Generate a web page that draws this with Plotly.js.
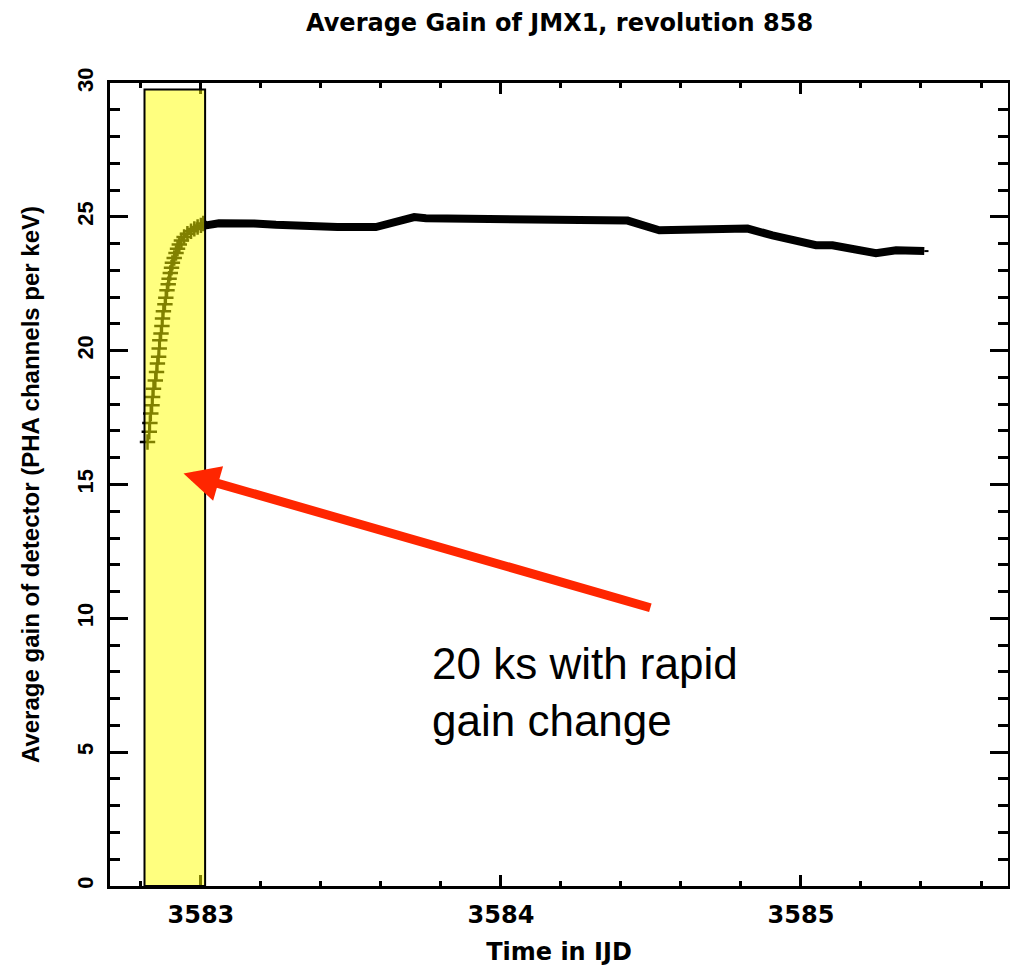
<!DOCTYPE html>
<html>
<head>
<meta charset="utf-8">
<script src="https://cdn.plot.ly/plotly-3.0.1.min.js"></script>
<style>html,body{margin:0;padding:0;background:#fff;}#chart{width:1010px;height:966px;}</style>
</head>
<body>
<div id="chart"></div>
<script>
// Rapid gain-change phase (time in IJD, gain in PHA channels per keV)
const riseTime = [3582.822,3582.828,3582.830,3582.833,3582.837,3582.839,3582.842,3582.848,3582.852,3582.855,
  3582.859,3582.861,3582.863,3582.867,3582.870,3582.872,3582.875,3582.880,3582.883,3582.887,
  3582.891,3582.894,3582.898,3582.902,3582.905,3582.911,3582.917,3582.922,3582.928,3582.935,
  3582.944,3582.955,3582.967,3582.978,3582.989,3583.000,3583.008];
const riseGain = [16.59,16.97,17.30,17.65,17.96,18.27,18.58,18.89,19.20,19.52,
  19.77,20.08,20.39,20.64,20.92,21.20,21.47,21.73,21.98,22.26,
  22.48,22.69,22.90,23.10,23.28,23.46,23.65,23.81,23.97,24.12,
  24.25,24.37,24.46,24.55,24.62,24.68,24.75];
// Stable phase
const timeIJD = [3583.008,3583.017,3583.060,3583.105,3583.178,3583.250,3583.328,3583.440,3583.455,3583.583,
  3583.650,3583.711,3583.750,3583.911,3583.925,3584.422,3584.528,3584.694,3584.705,3584.822,
  3584.905,3585.050,3585.105,3585.228,3585.250,3585.317,3585.389,3585.411,3585.425];
const gain = [24.75,24.68,24.76,24.78,24.75,24.70,24.66,24.66,24.62,24.62,
  24.80,24.99,24.95,24.93,24.86,24.86,24.50,24.50,24.56,24.56,
  24.31,23.94,23.94,23.63,23.64,23.75,23.72,23.72,23.72];
const xTickVals = [3583, 3584, 3585];
const yTickVals = [0, 5, 10, 15, 20, 25, 30];

const tickFont = {family: 'DejaVu Sans', size: 24, color: '#000', weight: 'bold'};
const yTickFont = {family: 'Liberation Sans', size: 22, color: '#000', weight: 'bold'};

const traces = [
  {x: riseTime, y: riseGain, mode: 'lines+markers', type: 'scatter',
   line: {color: '#000', width: 2},
   marker: {symbol: 'cross-thin', size: 11, line: {color: '#000', width: 2.5}, color: '#000'},
   hoverinfo: 'skip'},
  {x: timeIJD.slice(0, -1), y: gain.slice(0, -1), mode: 'lines', type: 'scatter',
   line: {color: '#000', width: 8}, hoverinfo: 'skip'},
  {x: timeIJD.slice(-2), y: gain.slice(-2), mode: 'lines', type: 'scatter',
   line: {color: '#000', width: 2}, hoverinfo: 'skip'}
];

const layout = {
  width: 1010, height: 966,
  margin: {l: 110, r: 2, t: 83, b: 80, pad: 0},
  paper_bgcolor: '#fff', plot_bgcolor: '#fff',
  showlegend: false,
  title: {text: 'Average Gain of JMX1, revolution 858', x: 0.554, xanchor: 'center', y: 0.977, yanchor: 'middle',
    font: {family: 'DejaVu Sans', size: 24, color: '#000', weight: 'bold'}},
  xaxis: {range: [3582.697, 3585.69], tickvals: xTickVals, ticktext: xTickVals.map(String),
    ticks: 'inside', ticklen: 11, tickwidth: 3, tickcolor: '#000',
    minor: {dtick: 0.2, tick0: 3583, ticks: 'inside', ticklen: 5, tickwidth: 3, tickcolor: '#000'},
    showline: true, linewidth: 3, linecolor: '#000', mirror: 'allticks',
    showgrid: false, zeroline: false, tickfont: tickFont, ticklabelstandoff: 5,
    title: {text: 'Time in IJD', font: {family: 'DejaVu Sans', size: 24, color: '#000', weight: 'bold'}, standoff: 20}},
  yaxis: {range: [0, 30], tickvals: yTickVals, ticktext: yTickVals.map(String), tickangle: -90,
    ticks: 'inside', ticklen: 18, tickwidth: 3, tickcolor: '#000',
    minor: {dtick: 1, tick0: 0, ticks: 'inside', ticklen: 10, tickwidth: 3, tickcolor: '#000'},
    showline: true, linewidth: 3, linecolor: '#000', mirror: 'allticks',
    showgrid: false, zeroline: false, tickfont: yTickFont, ticklabelstandoff: 5,
    title: {text: 'Average gain of detector (PHA channels per keV)', font: {family: 'Liberation Sans', size: 24, color: '#000', weight: 'bold'}, standoff: 27}},
  shapes: [
    {type: 'rect', xref: 'x', yref: 'y', x0: 3582.812, x1: 3583.014, y0: 0, y1: 29.76,
     fillcolor: 'rgba(255,255,0,0.5)', line: {color: '#000', width: 2}, layer: 'above'}
  ],
  annotations: [
    {xref: 'x', yref: 'y', x: 3582.942, y: 15.41, axref: 'x', ayref: 'y', ax: 3584.503, ay: 10.38,
     text: '', showarrow: true, arrowhead: 2, arrowsize: 0.8, arrowwidth: 9, arrowcolor: '#ff2600'},
    {xref: 'x', yref: 'y', x: 3583.764, y: 9.3, xanchor: 'left', yanchor: 'top', align: 'left',
     text: '20 ks with rapid<br>gain change', showarrow: false,
     font: {family: 'Liberation Sans', size: 44, color: '#000'}}
  ]
};

Plotly.newPlot('chart', traces, layout, {displayModeBar: false, staticPlot: true});
</script>
</body>
</html>
